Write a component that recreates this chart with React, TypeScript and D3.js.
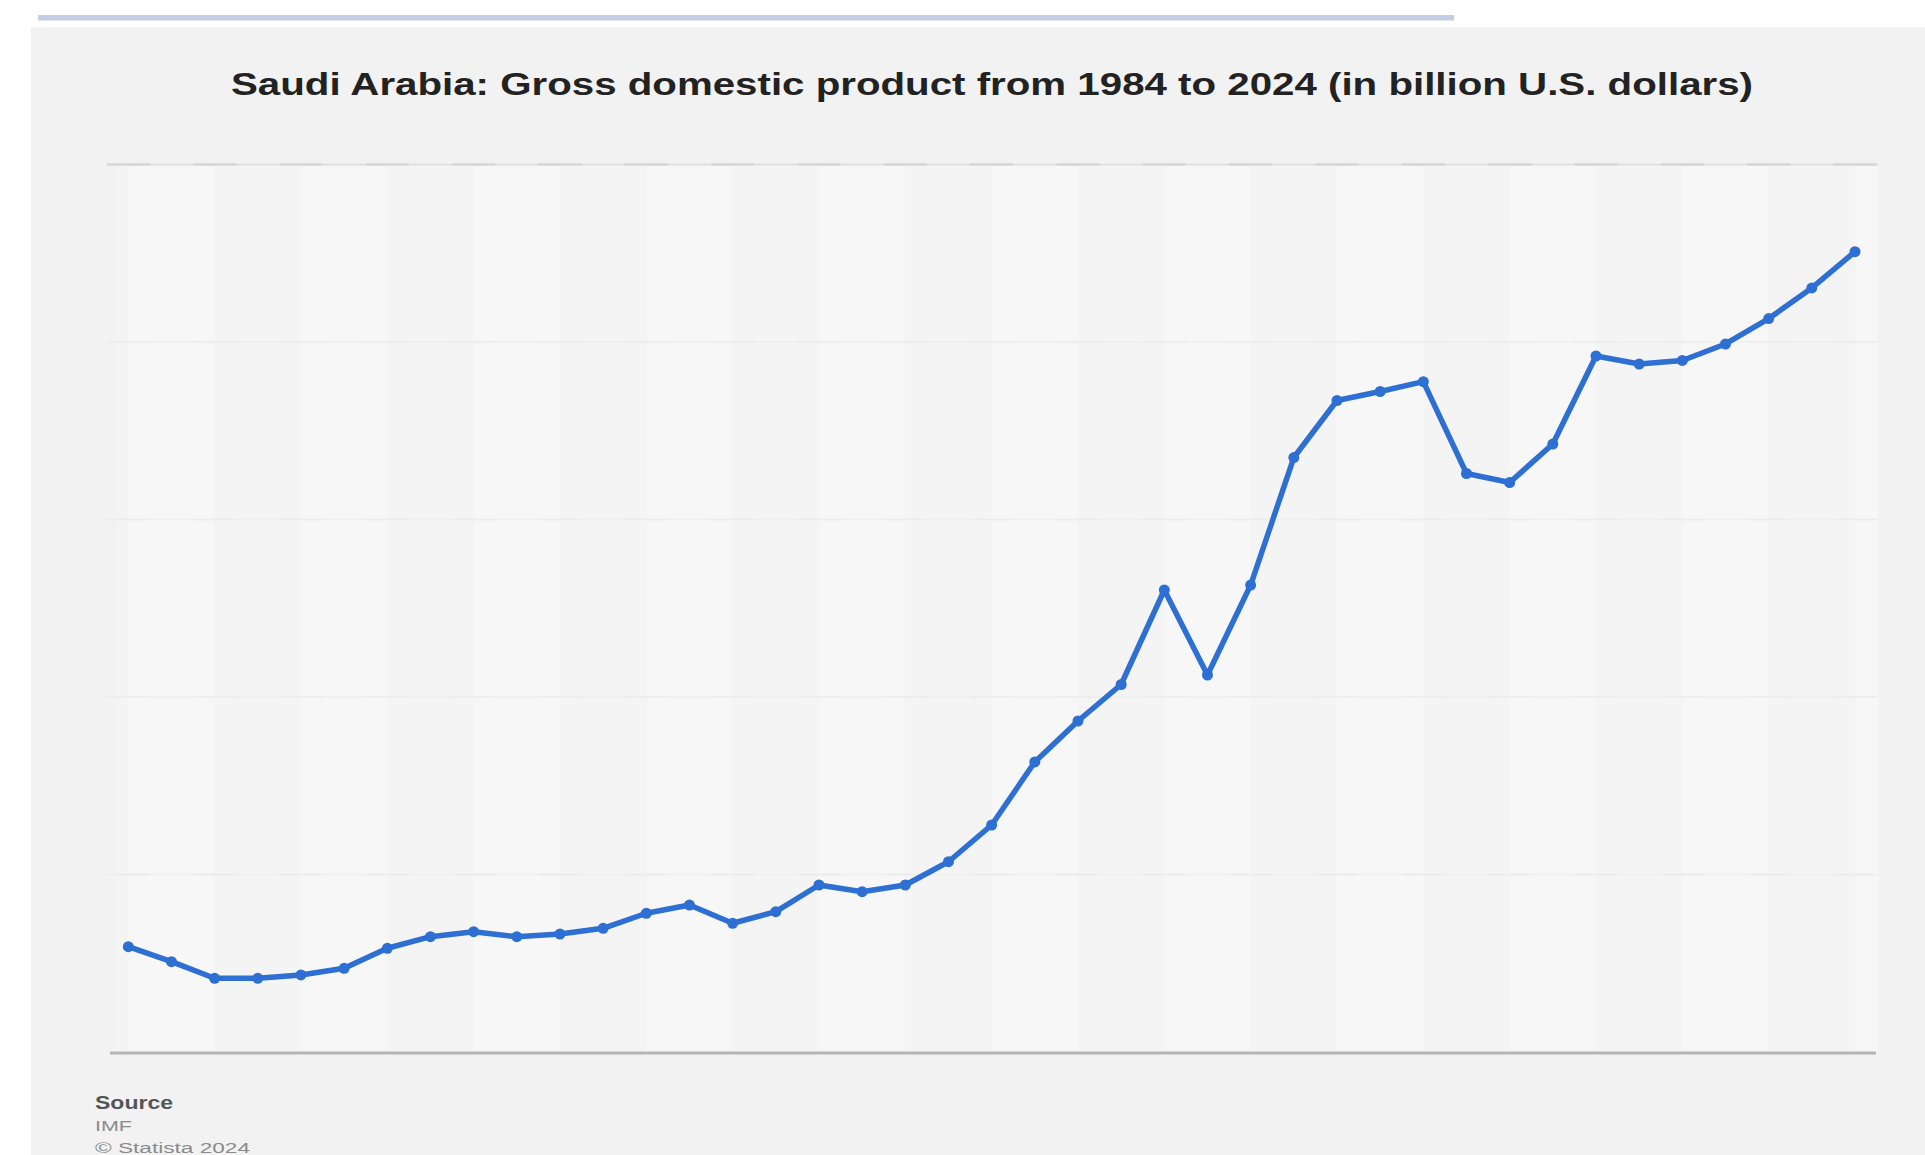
import React from "react";
import * as d3 from "d3";

const years: number[] = d3.range(1984, 2025);
const gdpValues: number[] = [
  148.3, 127.2, 103.8, 103.8, 108.5, 117.9, 146.1, 162.4, 169.4, 162.4,
  166.2, 174.2, 195.4, 207.0, 181.3, 197.6, 235.2, 225.8, 235.2, 268.0,
  319.7, 408.5, 466.2, 517.6, 650.7, 531.0, 657.7, 837.3, 917.6, 930.3,
  944.1, 814.8, 802.1, 856.3, 980.3, 969.0, 974.0, 997.2, 1033.0, 1076.1,
  1127.2,
];
const yTicks: number[] = [0, 250, 500, 750, 1000, 1250];
const titleText = "Saudi Arabia: Gross domestic product from 1984 to 2024 (in billion U.S. dollars)";
const sourceLines: string[] = ["Source", "IMF", "© Statista 2024"];

const W = 1925;
const H = 1155;

export default function App() {
  const x = d3.scaleLinear().domain([1984, 2024]).range([128.3, 1855]);
  const y = d3.scaleLinear().domain([0, 1250]).range([1052, 164.5]);
  const step = x(1985) - x(1984);
  const plotLeft = 117;
  const plotRight = 1878;

  const line = d3
    .line<number>()
    .x((_, i) => x(years[i]))
    .y((d) => y(d));

  const bands: { x0: number; x1: number; light: boolean }[] = [];
  for (let k = 0; k < 21; k++) {
    const x0 = x(1984) + k * 2 * step;
    const x1 = Math.min(x0 + 2 * step, plotRight);
    if (x0 < plotRight) bands.push({ x0, x1, light: k % 2 === 0 });
  }

  return (
    <svg
      width={W}
      height={H}
      style={{ position: "absolute", left: 0, top: 0, background: "#ffffff" }}
      fontFamily="'Liberation Sans', Arial, sans-serif"
    >
      <rect x={0} y={0} width={W} height={H} fill="#ffffff" />
      <rect x={38} y={15} width={1416} height={5.5} fill="#c3cde3" />
      <rect x={31} y={27} width={W - 31} height={H - 27} fill="#f2f2f2" />

      {/* plot background bands */}
      <rect x={plotLeft} y={y(1250)} width={x(1984) - plotLeft} height={y(0) - y(1250)} fill="#f4f4f4" />
      {bands.map((b, i) => (
        <rect
          key={i}
          x={b.x0}
          y={y(1250)}
          width={b.x1 - b.x0}
          height={y(0) - y(1250)}
          fill={b.light ? "#f7f7f7" : "#f4f4f4"}
        />
      ))}

      {/* gridlines */}
      {yTicks.slice(1).map((t) => (
        <g key={t}>
          <line
            x1={plotLeft}
            x2={plotRight}
            y1={y(t)}
            y2={y(t)}
            stroke={t === 1250 ? "#e0e0e0" : "#efefef"}
            strokeWidth={t === 1250 ? 2 : 1.5}
          />
          <line
            x1={x(1984) - step / 2}
            x2={plotRight}
            y1={y(t)}
            y2={y(t)}
            stroke={t === 1250 ? "#d7d7d7" : "#ececec"}
            strokeWidth={t === 1250 ? 2.5 : 1.5}
            strokeDasharray={`${step} ${step}`}
          />
        </g>
      ))}

      {/* axis line */}
      <line x1={110} x2={1876} y1={y(0) + 1} y2={y(0) + 1} stroke="#b5b5b5" strokeWidth={3} />

      {/* title */}
      <text
        x={992}
        y={95}
        textAnchor="middle"
        fontSize={32}
        fontWeight="bold"
        fill="#222222"
        textLength={1522}
        lengthAdjust="spacingAndGlyphs"
      >
        {titleText}
      </text>

      {/* series */}
      <path
        d={line(gdpValues) || ""}
        fill="none"
        stroke="#2d6fd2"
        strokeWidth={5.5}
        strokeLinejoin="round"
        strokeLinecap="round"
      />
      {gdpValues.map((v, i) => (
        <circle key={i} cx={x(years[i])} cy={y(v)} r={5.5} fill="#2d6fd2" />
      ))}

      {/* source */}
      <text x={95} y={1109} fontSize={19} fontWeight="bold" fill="#555555" textLength={78} lengthAdjust="spacingAndGlyphs">
        {sourceLines[0]}
      </text>
      <text x={95} y={1131} fontSize={14} fill="#8a8a8a" textLength={37} lengthAdjust="spacingAndGlyphs">
        {sourceLines[1]}
      </text>
      <text x={95} y={1153} fontSize={14} fill="#8a8a8a" textLength={155} lengthAdjust="spacingAndGlyphs">
        {sourceLines[2]}
      </text>
    </svg>
  );
}
